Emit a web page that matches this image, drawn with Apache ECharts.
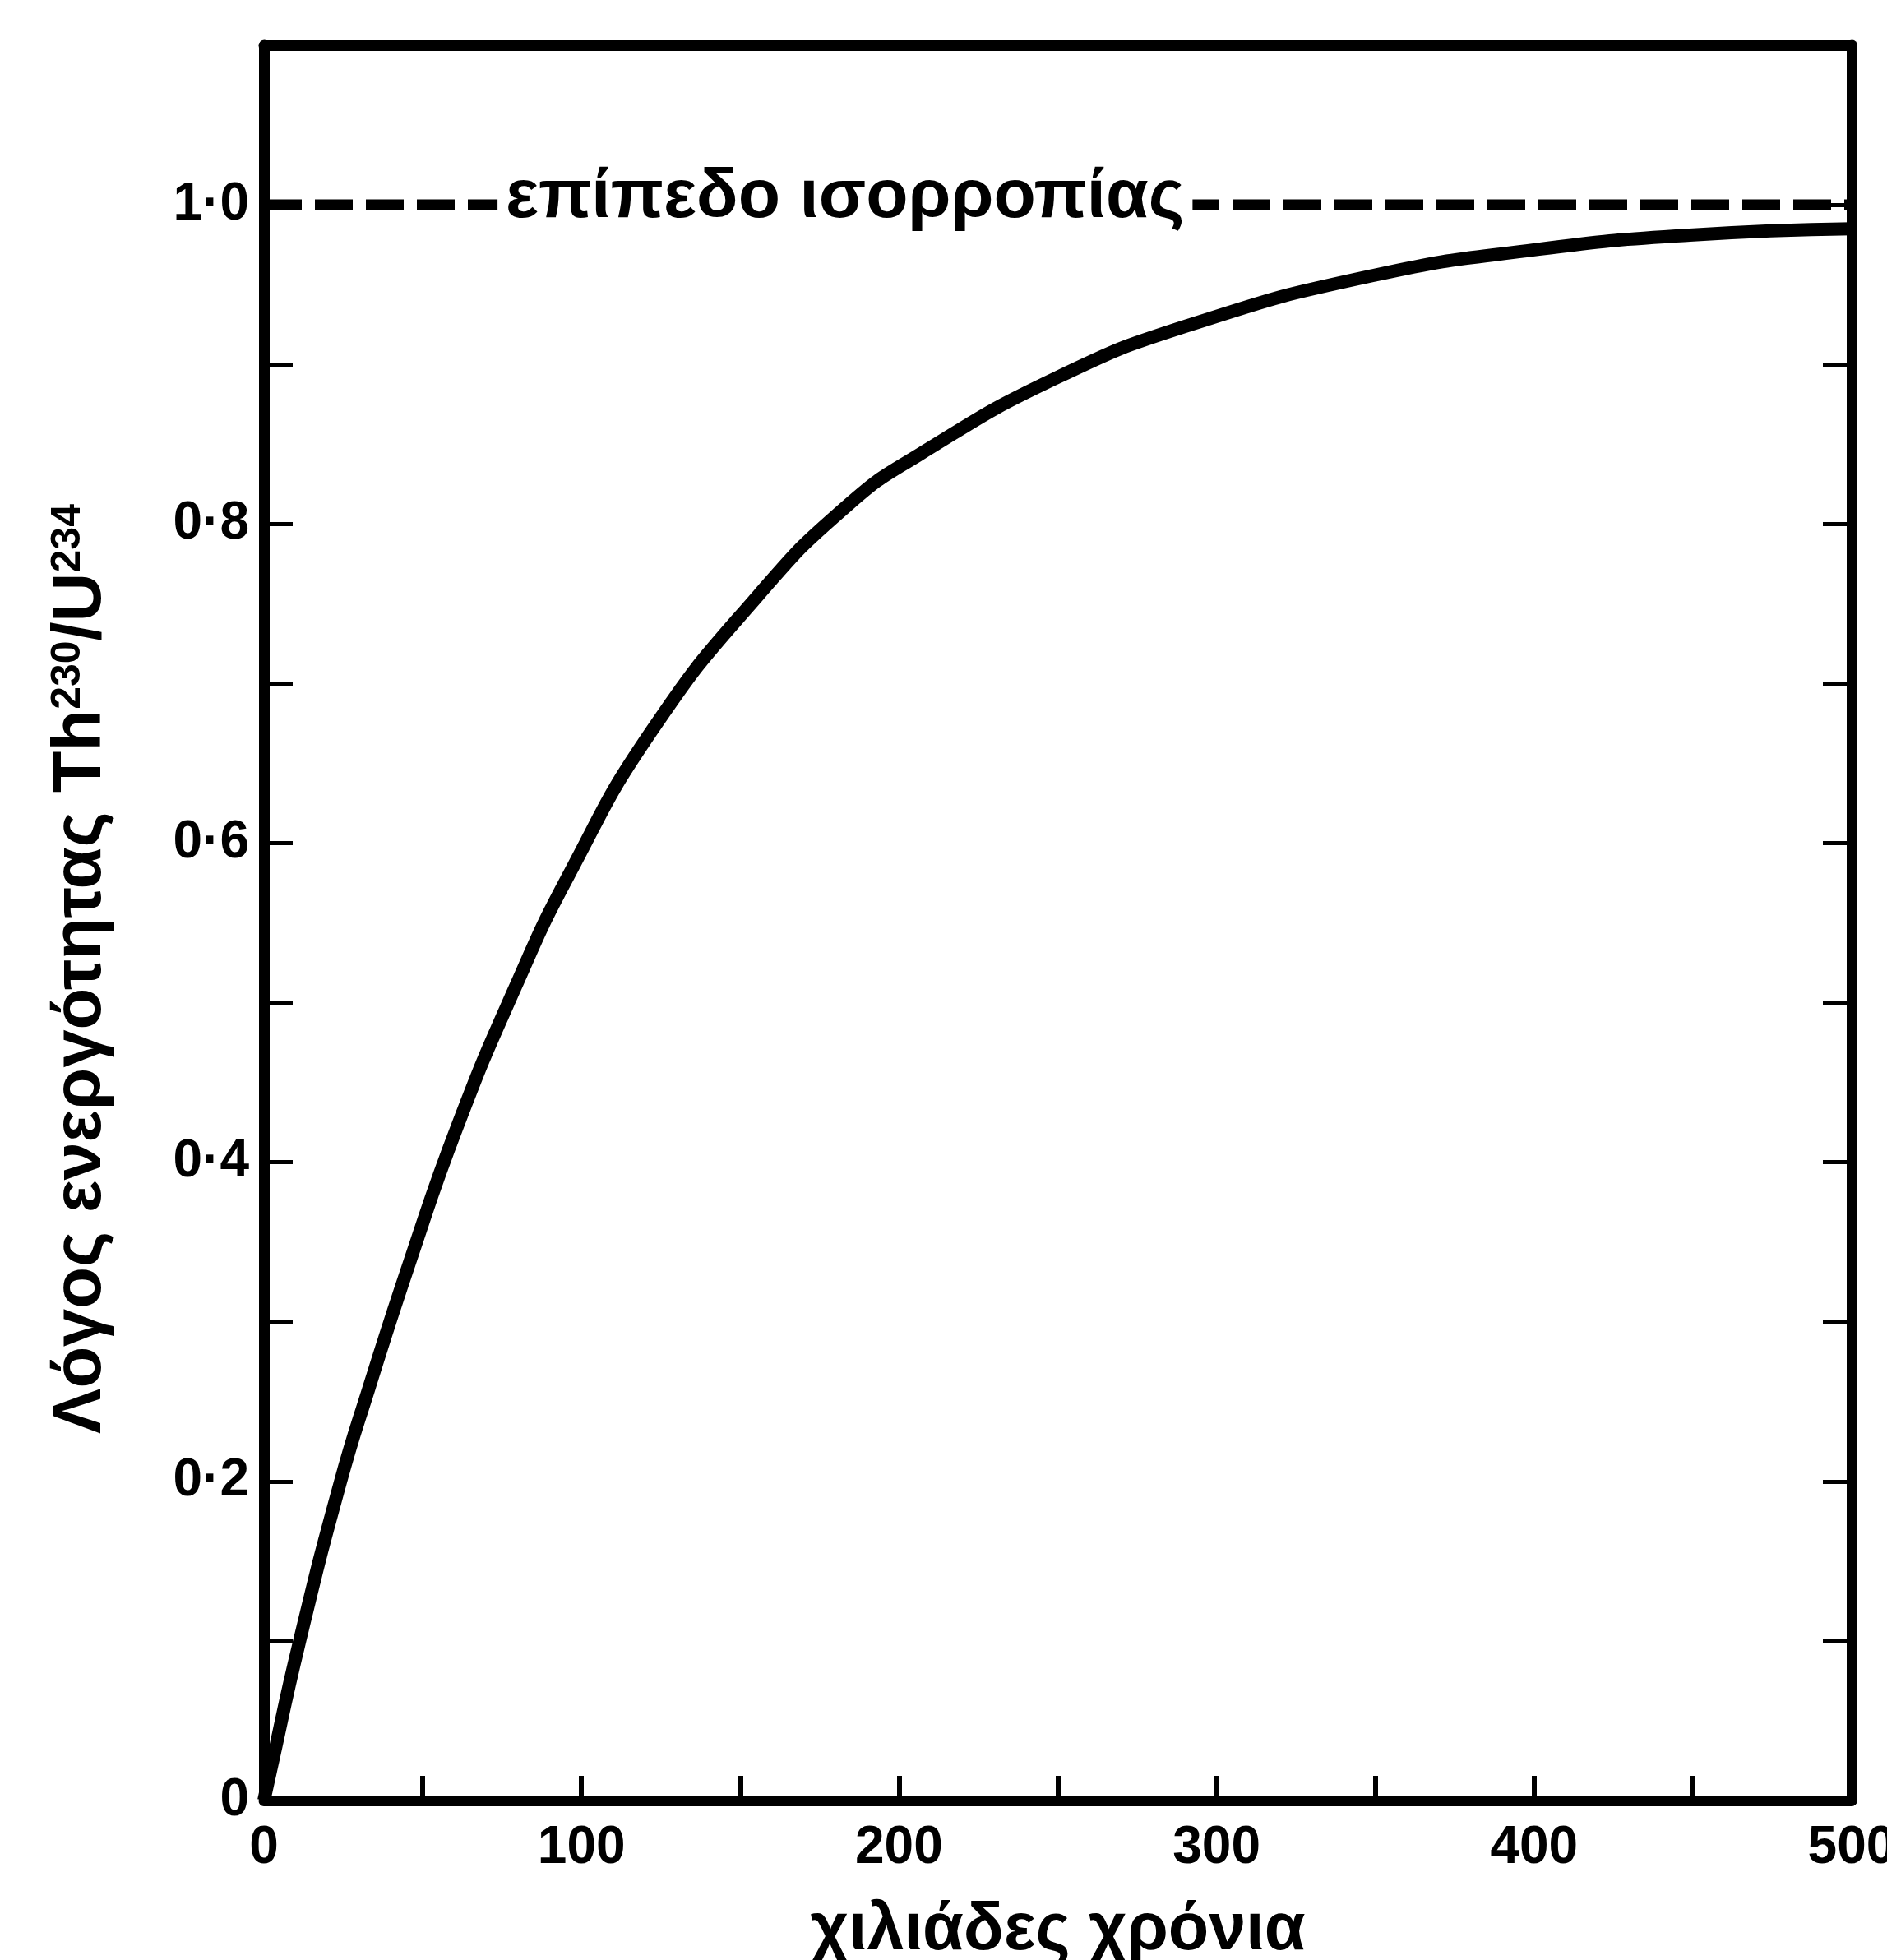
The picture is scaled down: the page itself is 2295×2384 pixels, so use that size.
<!DOCTYPE html>
<html><head><meta charset="utf-8">
<script src="https://cdn.jsdelivr.net/npm/echarts@6/dist/echarts.min.js"></script>
<style>html,body{margin:0;padding:0;background:#fff;} #c{width:2295px;height:2384px;}</style>
</head><body><div id="c"></div>
<script>
// ---- data ----
const years = [0, 2, 11, 24, 33, 46, 61, 79, 96, 122, 156, 184, 206, 249, 292, 350, 401, 449, 500];
const ratio = [0, 0.018, 0.098, 0.199, 0.258, 0.338, 0.423, 0.509, 0.580, 0.670, 0.756, 0.812, 0.843, 0.891, 0.925, 0.956, 0.972, 0.981, 0.985];
const equilibriumX = [0, 500];
const equilibriumY = [1.0, 1.0];
const equilibriumLabel = 'επίπεδο ισορροπίας';
const equilibriumLabelAt = [183, 1.0];
const xTickValues = [0, 100, 200, 300, 400, 500];
const xTickLabels = ['0', '100', '200', '300', '400', '500'];
const yTickValues = [0, 0.2, 0.4, 0.6, 0.8, 1.0];
const yTickLabels = ['0', '0·2', '0·4', '0·6', '0·8', '1·0'];
const xName = 'χιλιάδες χρόνια';
const yNameParts = ['Λόγος ενεργότητας Th', '230', '/U', '234'];

const NARROW = "'Liberation Sans Narrow', 'Liberation Sans', 'DejaVu Sans', sans-serif";
const SANS = "'Liberation Sans', 'DejaVu Sans', sans-serif";

function lookup(values, labels, v) {
  for (let i = 0; i < values.length; i++) if (Math.abs(values[i] - v) < 1e-6) return labels[i];
  return '';
}

const chart = echarts.init(document.getElementById('c'), null, {renderer: 'canvas'});
const black = '#000';
const option = {
  backgroundColor: '#fff',
  animation: false,
  grid: {left: 321, right: 43, top: 55, bottom: 194, containLabel: false, outerBoundsMode: 'none'},
  xAxis: [{
    type: 'value', min: 0, max: 500, interval: 50, position: 'bottom',
    axisLine: {show: true, onZero: false, lineStyle: {color: black, width: 13}},
    axisTick: {show: true, inside: true, length: 30, lineStyle: {color: black, width: 6}},
    axisLabel: {show: true, margin: 26, color: black, fontFamily: NARROW, fontWeight: 'bold', fontSize: 64,
      formatter: v => lookup(xTickValues, xTickLabels, v)},
    splitLine: {show: false},
    name: xName, nameLocation: 'middle', nameGap: 118,
    nameTextStyle: {color: black, fontFamily: NARROW, fontWeight: 'bold', fontSize: 81}
  }, {
    type: 'value', min: 0, max: 500, position: 'top',
    axisLine: {show: true, onZero: false, lineStyle: {color: black, width: 13}},
    axisTick: {show: false}, axisLabel: {show: false}, splitLine: {show: false}
  }],
  yAxis: [{
    type: 'value', min: 0, max: 1.1, interval: 0.1, position: 'left',
    axisLine: {show: true, onZero: false, lineStyle: {color: black, width: 13}},
    axisTick: {show: true, inside: true, length: 35, lineStyle: {color: black, width: 5}},
    axisLabel: {show: true, margin: 18, color: black, fontFamily: SANS, fontWeight: 'bold', fontSize: 64,
      formatter: v => lookup(yTickValues, yTickLabels, v)},
    splitLine: {show: false},
    name: '{m|' + yNameParts[0] + '}{s|' + yNameParts[1] + '}{m|' + yNameParts[2] + '}{s|' + yNameParts[3] + '}',
    nameLocation: 'middle', nameRotate: 90, nameGap: 180,
    nameTextStyle: {color: black, fontFamily: NARROW, fontWeight: 'bold', fontSize: 83, padding: [0, 112, 0, 0],
      rich: {
        m: {fontFamily: NARROW, fontWeight: 'bold', fontSize: 83, color: black},
        s: {fontFamily: NARROW, fontWeight: 'bold', fontSize: 50, color: black, verticalAlign: 'top'}
      }}
  }, {
    type: 'value', min: 0, max: 1.1, interval: 0.1, position: 'right',
    axisLine: {show: true, onZero: false, lineStyle: {color: black, width: 13}},
    axisTick: {show: true, inside: true, length: 35, lineStyle: {color: black, width: 5}},
    axisLabel: {show: false}, splitLine: {show: false}
  }],
  series: [{
    type: 'line', xAxisIndex: 0, yAxisIndex: 0,
    data: years.map((x, i) => [x, ratio[i]]),
    smooth: 0.5, symbol: 'none',
    lineStyle: {color: black, width: 16}, z: 3
  }, {
    type: 'line', xAxisIndex: 0, yAxisIndex: 0,
    data: equilibriumX.map((x, i) => [x, equilibriumY[i]]),
    symbol: 'none',
    lineStyle: {color: black, width: 13, type: [46, 16]}, z: 2
  }, {
    type: 'scatter', xAxisIndex: 0, yAxisIndex: 0,
    data: [equilibriumLabelAt], symbolSize: 0, z: 5,
    itemStyle: {opacity: 1},
    label: {show: true, position: 'inside', formatter: equilibriumLabel, color: black, opacity: 1,
      fontFamily: NARROW, fontWeight: 'bold', fontSize: 84, backgroundColor: '#fff', padding: [0, 10], offset: [0, -8]},
    emphasis: {disabled: true}
  }]
};
chart.setOption(option);
</script>
</body></html>
